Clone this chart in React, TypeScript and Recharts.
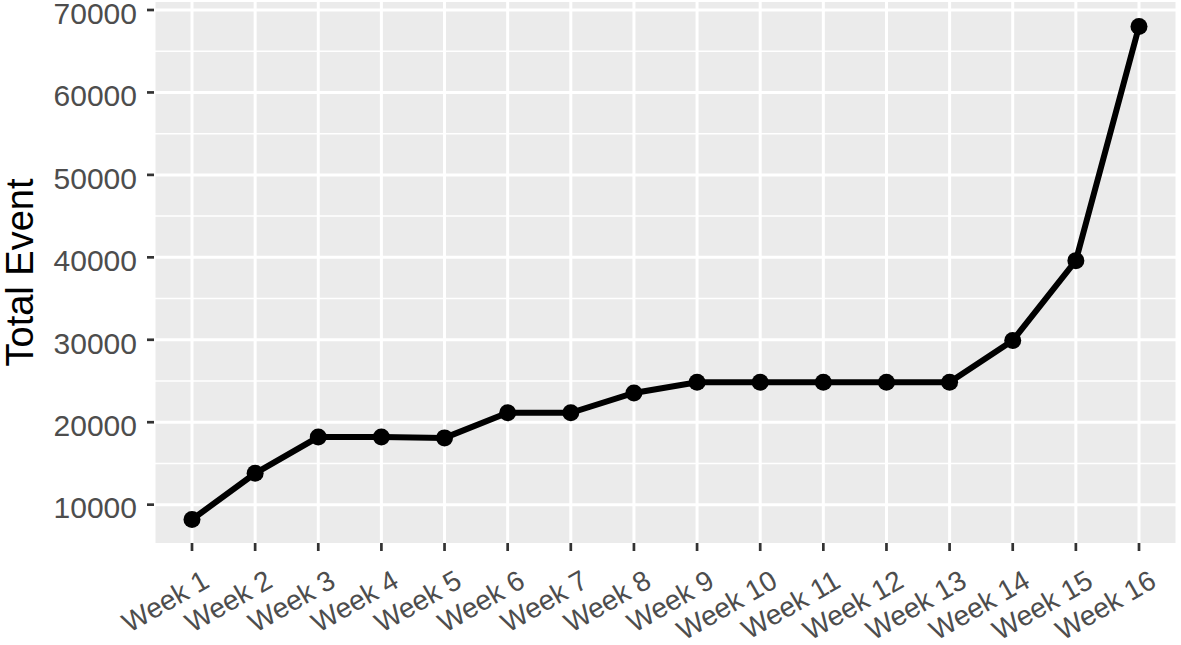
import { LineChart, Line, XAxis, YAxis, CartesianGrid } from "recharts";

const WEEKS = [
  "Week 1", "Week 2", "Week 3", "Week 4", "Week 5", "Week 6", "Week 7", "Week 8",
  "Week 9", "Week 10", "Week 11", "Week 12", "Week 13", "Week 14", "Week 15", "Week 16",
];
const TOTAL_EVENTS = [
  8200, 13800, 18200, 18200, 18100, 21150, 21150, 23550,
  24850, 24850, 24850, 24850, 24850, 29900, 39600, 68000,
];
const Y_TICKS = [10000, 20000, 30000, 40000, 50000, 60000, 70000];
const Y_MINOR = [15000, 25000, 35000, 45000, 55000, 65000];

const data = WEEKS.map((week, i) => ({ week, total: TOTAL_EVENTS[i] }));

const FONT = "'Liberation Sans', Arial, sans-serif";

function XTick(props: any) {
  const { x, payload } = props;
  const ax = x + 19;
  const ay = 586;
  return (
    <text
      x={ax}
      y={ay}
      textAnchor="end"
      transform={`rotate(-30, ${ax}, ${ay})`}
      fill="#4D4D4D"
      fontSize={28}
      fontFamily={FONT}
    >
      {payload.value}
    </text>
  );
}

function YTick(props: any) {
  const { y, payload } = props;
  return (
    <text
      x={137}
      y={y + 3}
      dy="0.36em"
      textAnchor="end"
      fill="#4D4D4D"
      fontSize={30}
      fontFamily={FONT}
    >
      {payload.value}
    </text>
  );
}

function YTitle() {
  return (
    <text
      x={33}
      y={272.5}
      textAnchor="middle"
      transform="rotate(-90, 33, 272.5)"
      fill="#000"
      fontSize={38}
      fontFamily={FONT}
    >
      Total Event
    </text>
  );
}

export default function App() {
  return (
    <div style={{ position: "absolute", left: 0, top: 0 }}>
      <LineChart
        width={1181}
        height={645}
        data={data}
        margin={{ top: 2, right: 4, bottom: 0, left: 0 }}
      >
        <CartesianGrid
          vertical={false}
          horizontalValues={Y_MINOR}
          fill="#EBEBEB"
          stroke="#FFFFFF"
          strokeWidth={1.5}
        />
        <CartesianGrid
          horizontalValues={Y_TICKS}
          fill="none"
          stroke="#FFFFFF"
          strokeWidth={3}
        />
        <XAxis
          dataKey="week"
          interval={0}
          height={102}
          padding={{ left: 38, right: 38 }}
          axisLine={false}
          tickSize={8}
          tickLine={{ stroke: "#333333", strokeWidth: 2.7 }}
          tick={<XTick />}
        />
        <YAxis
          width={154}
          domain={[5350, 70970]}
          ticks={Y_TICKS}
          axisLine={false}
          tickSize={7}
          tickLine={{ stroke: "#333333", strokeWidth: 2.7 }}
          tick={<YTick />}
          label={{ content: () => <YTitle /> }}
        />
        <Line
          dataKey="total"
          type="linear"
          stroke="#000000"
          strokeWidth={6}
          dot={{ r: 8.5, fill: "#000000", stroke: "#000000", strokeWidth: 0 }}
          activeDot={false}
          isAnimationActive={false}
        />
      </LineChart>
    </div>
  );
}
